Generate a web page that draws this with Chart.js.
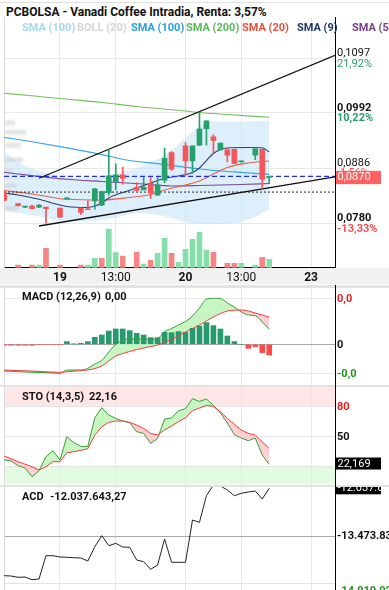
<!DOCTYPE html>
<html><head><meta charset="utf-8">
<script src="https://cdn.jsdelivr.net/npm/chart.js@4.4.1/dist/chart.umd.min.js"></script>
<style>
html,body{margin:0;padding:0;background:#fff;}
body{width:389px;height:590px;overflow:hidden;position:relative;font-family:Roboto,'DejaVu Sans',sans-serif;}
.a{position:absolute;}
.leg{position:absolute;top:21px;font-size:11px;font-weight:bold;white-space:nowrap;line-height:13px;}
.ph{position:absolute;font-size:11px;font-weight:bold;color:#111;white-space:nowrap;line-height:13px;}
canvas{position:absolute;left:0;}
</style></head><body>
<div class="a" style="left:0;top:2px;width:389px;height:1px;background:#e0e0e0"></div>
<div class="a" style="left:6px;top:5px;font-size:12px;font-weight:bold;color:#111;white-space:nowrap;line-height:15px">PCBOLSA - Vanadi Coffee Intradia, Renta: 3,57%</div>
<div class="a" style="left:0;top:268px;width:389px;height:16px;background:#f1f1f1"></div>
<div class="a" style="left:0;top:285px;width:389px;height:3px;background:#e2e2e2"></div>
<div class="a" style="left:0;top:385px;width:389px;height:2px;background:#e2e2e2"></div>
<div class="a" style="left:0;top:485px;width:389px;height:2px;background:#e2e2e2"></div>
<canvas id="cMain" width="389" height="268" style="top:17px"></canvas>
<canvas id="cMacd" width="389" height="97" style="top:288px"></canvas>
<canvas id="cSto" width="389" height="98" style="top:387px"></canvas>
<canvas id="cAcd" width="389" height="103" style="top:487px"></canvas>
<div class="a" style="left:335px;top:285px;width:1px;height:305px;background:#000"></div>
<span class="leg" style="left:22px;color:#a8d6f5">SMA (100)</span>
<span class="leg" style="left:77px;color:#d4d4d4">BOLL (20)</span>
<span class="leg" style="left:131px;color:#2b9fe0">SMA (100)</span>
<span class="leg" style="left:186px;color:#5cb85c">SMA (200)</span>
<span class="leg" style="left:242px;color:#e8503a">SMA (20)</span>
<span class="leg" style="left:297px;color:#1f3768">SMA (9)</span>
<span class="leg" style="left:352px;color:#7a3d8c">SMA (50)</span>
<span class="ph" style="left:22px;top:290px">MACD (12,26,9)</span><span class="ph" id="hMacd" style="left:105px;top:290px"></span>
<span class="ph" style="left:22px;top:390px">STO (14,3,5)</span><span class="ph" id="hSto" style="left:89px;top:390px"></span>
<span class="ph" style="left:22px;top:490px">ACD</span><span class="ph" id="hAcd" style="left:50px;top:490px"></span>
<script>
// ---------- DATA ----------
const X_MIN = -2.02, X_MAX = 45.43;
const X_TICKS = [6, 14, 24, 32, 42];
const X_TICK_LABELS = ['19', '13:00', '20', '13:00', '23'];
const X_TICK_BOLD = [true, false, true, false, true];

const PRICE_MIN = 0.06947, PRICE_MAX = 0.11763;
const PRICE_TICKS = [0.1097, 0.0992, 0.0886, 0.0780];
const PRICE_TICK_PCT = ['21,92%', '10,22%', '-1,56%', '-13,33%'];
const LAST_PRICE = 0.0870;
const REF_PRICE = 0.0840;

const CANDLE_SLOTS = [-2,0,1,2,3,4,6,7,9,10,11,12,13,14,15,17,18,19,20,21,22,24,25,26,27,28,29,30,31,32,34,35,36];
const OPEN  = [.0838,.0818,.0811,.0813,.0811,.0811,.0809,.0827,.0809,.0808,.0823,.0815,.0839,.0860,.0873,.0849,.0844,.0857,.0834,.0863,.0916,.0929,.0900,.0930,.0962,.0946,.0921,.0921,.0922,.0898,.0911,.0922,.0868];
const HIGH  = [.0840,.0818,.0812,.0815,.0816,.0811,.0809,.0829,.0809,.0823,.0847,.0842,.0921,.0894,.0888,.0858,.0868,.0868,.0868,.0924,.0918,.0935,.0929,.0993,.0977,.0950,.0934,.0925,.0922,.0900,.0923,.0922,.0870];
const LOW   = [.0823,.0813,.0810,.0807,.0810,.0780,.0791,.0827,.0797,.0806,.0807,.0814,.0834,.0844,.0855,.0843,.0844,.0828,.0834,.0858,.0881,.0871,.0876,.0929,.0930,.0915,.0921,.0898,.0895,.0897,.0902,.0847,.0856];
const CLOSE = [.0824,.0814,.0812,.0808,.0815,.0808,.0792,.0829,.0801,.0806,.0846,.0841,.0871,.0873,.0866,.0843,.0849,.0838,.0854,.0905,.0884,.0900,.0929,.0961,.0977,.0939,.0934,.0911,.0895,.0899,.0923,.0865,.0870];

const VOL_SLOTS = [0,2,3,4,6,9,10,11,12,13,14,15,17,18,19,20,21,22,23,24,25,26,27,28,30,31,32,34,35,36];
const VOLUME = [27000,27000,27000,194000,27000,27000,27000,94000,94000,387000,150000,117000,155000,37000,74000,144000,294000,144000,54000,184000,284000,354000,177000,154000,44000,44000,44000,27000,104000,84000];
const VOL_UP = [0,0,1,0,0,0,1,1,0,1,1,0,0,1,0,1,1,0,1,1,1,1,1,0,0,0,1,1,0,1];
const VOL_AXIS_MAX = 2507000;

const SMA200_SLOTS = [-2,2,6,12,17,24,26,30,36];
const SMA200 = [0.10298,0.10250,0.10198,0.10121,0.10044,0.09958,0.09927,0.09890,0.09836];
const SMA100_SLOTS = [-2,2,6,12,16,20,26,31,36];
const SMA100 = [0.09452,0.09366,0.09272,0.09120,0.09006,0.08945,0.08843,0.08786,0.08738];
const SMA20_SLOTS = [-2,2,5,7,12,16,19,21,24,26,28,30,33,36];
const SMA20 = [0.08430,0.08363,0.08296,0.08261,0.08248,0.08296,0.08353,0.08440,0.08536,0.08613,0.08747,0.08872,0.08958,0.08997];
const SMA9_SLOTS = [-2,0,3,6,7,10,11,12,13,15,17,20,21,23,25,26,27,28,29,30,33,35,36];
const SMA9 = [0.08382,0.08344,0.08261,0.08152,0.08123,0.08104,0.08132,0.08190,0.08286,0.08392,0.08478,0.08622,0.08665,0.08709,0.08776,0.08862,0.09006,0.09141,0.09218,0.09247,0.09256,0.09250,0.09170];
const SMA50_SLOTS = [-2,2,7,12,18,22,26,32,36];
const SMA50 = [0.08780,0.08715,0.08645,0.08603,0.08555,0.08517,0.08526,0.08545,0.08565];
const BB_SLOTS = [-2,0,3,6,9,12,15,17,20,22,24,26,28,32,36];
const BB_UP = [0.09170,0.08978,0.08805,0.08709,0.08670,0.08709,0.08786,0.08862,0.09035,0.09208,0.09439,0.09669,0.09756,0.09756,0.09775];
const BB_LO = [0.08036,0.07998,0.07931,0.07844,0.07835,0.07854,0.07940,0.07998,0.07959,0.07902,0.07825,0.07787,0.07787,0.07825,0.08056];

const TREND_UP_SLOTS = [3, 45.43], TREND_UP = [0.08665, 0.11026];
const TREND_LO_SLOTS = [3, 45.43], TREND_LO = [0.07748, 0.08692];

const PROFILE_PRICE = [0.0973,0.0955,0.0930,0.0902,0.0880,0.0852,0.0809];
const PROFILE_VOL = [95,200,150,170,75,115,125];

const OSC_SLOTS = [-2,-1,0,1,2,3,4,5,6,7,8,9,10,11,12,13,14,15,16,17,18,19,20,21,22,23,24,25,26,27,28,29,30,31,32,33,34,35,36];
const MACD = [-0.000801,-0.00081,-0.000822,-0.000831,-0.00084,-0.000846,-0.000852,-0.000861,-0.00087,-0.000771,-0.000771,-0.000771,-0.00072,-0.000591,-0.000486,-0.000231,-0.000006,0.000129,0.000159,0.000159,0.000159,0.00015,0.000174,0.000384,0.000474,0.000579,0.000684,0.000849,0.001089,0.001359,0.00138,0.001374,0.001239,0.001119,0.000969,0.000879,0.000858,0.000669,0.000459];
const SIGNAL = [-0.000771,-0.00078,-0.000789,-0.000795,-0.000801,-0.000813,-0.000825,-0.000834,-0.00084,-0.000825,-0.000807,-0.000789,-0.000771,-0.000726,-0.000651,-0.000501,-0.000351,-0.000276,-0.000216,-0.000156,-0.000111,-0.000066,-0.000021,0.000069,0.000144,0.000249,0.000369,0.000474,0.000579,0.000699,0.000819,0.000924,0.000999,0.001023,0.001029,0.000999,0.000939,0.000879,0.00081];
const HIST = [-0.00003,-0.00003,-0.00003,-0.00003,-0.00003,-0.000015,-0.000015,-0.000015,-0.000015,0.000081,0.00001,0.00003,0.000081,0.00021,0.000279,0.000399,0.000459,0.000459,0.000411,0.00033,0.000279,0.000201,0.000201,0.00036,0.000351,0.000381,0.00036,0.00048,0.000549,0.000651,0.000561,0.000459,0.000249,0.000081,0,-0.00012,-0.000069,-0.000249,-0.000321];
const MACD_MIN = -0.001221, MACD_MAX = 0.001689;
const MACD_TICKS = [0.00138, 0, -0.00087];

const STO_K = [26.7,25.7,21,18.7,10,16,30,36,26.7,50,44,40.3,40.3,69,79,71.7,68.3,65.7,64,55,53.3,43.3,48.3,67.7,68.7,76,78,88,85.3,87.7,81.3,73.7,63.7,52,48.7,46,48.7,31.7,22.169];
const STO_D = [30.7,28,25,22.5,20,16.7,20,25,25,34,35,36.3,38,51.7,60,64.3,65.7,65.7,64.3,61.7,58.3,53.3,51.7,56.7,60.7,65,69,76,78.7,81.3,80.3,75,68.3,62.3,56.7,53.3,51.7,45,38.3];
const STO_MIN = 1.7, STO_MAX = 99.7;
const STO_TICKS = [80, 50, 20];

const ACD = [-14669127,-14678160,-14717302,-14708269,-14789563,-14768487,-14066947,-14066947,-14106089,-14115122,-14127165,-14136198,-14226525,-13795966,-13464767,-13765857,-13693596,-13804999,-13814032,-14196416,-14247601,-14476430,-14346961,-13564127,-14265667,-14265667,-14265667,-12992056,-13061307,-12260407,-11938241,-11968350,-12088786,-12260407,-12188146,-12149004,-12118895,-12359767,-12037643.27];
const ACD_MIN = -15099686, ACD_MAX = -11998459;
const ACD_TICKS = [-13473836, -14910029];

// ---------- helpers ----------
Chart.defaults.font.family = 'Roboto';
Chart.defaults.animation = false;
const pts = (xs, ys) => xs.map((x, i) => ({x, y: ys[i]}));
const dec = (v, d) => v.toFixed(d).replace('.', ',');
const th = v => (v < 0 ? '-' : '') + Math.abs(Math.trunc(v)).toString().replace(/\B(?=(\d{3})+(?!\d))/g, '.');
const GREEN = '#26a06c', RED = '#f5565a';

function xScale(labels) {
  return {
    type: 'linear', min: X_MIN, max: X_MAX, offset: false,
    afterBuildTicks: s => { s.ticks = X_TICKS.map(v => ({value: v})); },
    grid: {color: '#e8e8e8', lineWidth: 1, drawTicks: false, offset: false},
    border: {display: labels, color: '#000', width: 1},
    ticks: {display: labels, padding: 3, color: '#111', maxRotation: 0, autoSkip: false,
      callback: v => { const i = X_TICKS.indexOf(v); return i >= 0 ? X_TICK_LABELS[i] : ''; },
      font: c => ({family: 'Roboto', size: 12, weight: (c.tick && X_TICK_BOLD[X_TICKS.indexOf(c.tick.value)]) ? 'bold' : 'normal'})},
    afterFit: s => { s.height = labels ? 17.3 : 0; }
  };
}
function yScale(min, max, ticks, gridColor, border) {
  return {
    type: 'linear', position: 'right', min, max,
    afterBuildTicks: s => { s.ticks = ticks.map(v => ({value: v})); },
    grid: {color: gridColor, drawTicks: false},
    border: {display: border, color: '#000', width: 1},
    ticks: {display: false},
    afterFit: s => { s.width = 54; }
  };
}
const leftBorder = {
  id: 'leftBorder',
  beforeDatasetsDraw(chart) {
    const {ctx, chartArea: a} = chart;
    ctx.save(); ctx.fillStyle = '#dcdcdc'; ctx.fillRect(a.left, a.top, 1, a.bottom - a.top); ctx.restore();
  }
};
function line(data, color, w, extra) {
  return Object.assign({type: 'line', data, borderColor: color, borderWidth: w, pointRadius: 0,
    cubicInterpolationMode: 'monotone', fill: false}, extra || {});
}
const baseOpts = (scales) => ({
  responsive: false, animation: false, events: [],
  layout: {padding: {left: 4, right: 0, top: 0, bottom: 0}},
  plugins: {legend: {display: false}, tooltip: {enabled: false}, filler: {drawTime: 'beforeDatasetsDraw'}},
  scales
});

// ---------- MAIN ----------
const isUp = i => CLOSE[i] >= OPEN[i];
const mainLabels = {
  id: 'mainLabels',
  beforeDatasetsDraw(chart) {
    const {ctx, chartArea: a, scales: {y}} = chart;
    const pmax = Math.max(...PROFILE_VOL);
    ctx.save(); ctx.filter = 'blur(1.2px)'; ctx.fillStyle = 'rgba(205,205,205,0.55)';
    PROFILE_PRICE.forEach((p, i) => {
      const yy = y.getPixelForValue(p);
      ctx.fillRect(a.left + 1, yy - 2.5, PROFILE_VOL[i] / pmax * 21, 5);
    });
    ctx.restore();
  },
  afterDraw(chart) {
    const {ctx, chartArea: a, scales: {y}} = chart;
    ctx.save(); ctx.textBaseline = 'middle'; ctx.textAlign = 'left';
    PRICE_TICKS.forEach((p, i) => {
      const yy = y.getPixelForValue(p);
      const bold = i % 2 === 1 || i === 3;
      ctx.font = (bold ? 'bold ' : '') + '11px Roboto';
      ctx.fillStyle = '#111';
      ctx.fillText(dec(p, 4), a.right + 2, yy - 5);
      ctx.fillStyle = PRICE_TICK_PCT[i].startsWith('-') ? '#f55050' : '#2a9d6a';
      ctx.fillText(PRICE_TICK_PCT[i], a.right + 2, yy + 5.5);
    });
    const ly = y.getPixelForValue(LAST_PRICE);
    ctx.fillStyle = 'rgba(255,88,88,0.95)'; ctx.fillRect(a.right + 1, ly - 5.6, 45, 13.3);
    ctx.fillStyle = '#fff'; ctx.font = '11px Roboto'; ctx.fillText(dec(LAST_PRICE, 4), a.right + 2.5, ly + 1.2);
    ctx.restore();
  }
};
new Chart(document.getElementById('cMain'), {
  type: 'bar',
  data: {datasets: [
    {type: 'bar', data: CANDLE_SLOTS.map((s, i) => ({x: s, y: [OPEN[i], CLOSE[i]]})), barThickness: 5, minBarLength: 1,
      grouped: false, backgroundColor: c => isUp(c.dataIndex) ? GREEN : RED, borderWidth: 0, order: 0},
    {type: 'bar', data: CANDLE_SLOTS.map((s, i) => ({x: s, y: [LOW[i], HIGH[i]]})), barThickness: 1, minBarLength: 1,
      grouped: false, backgroundColor: c => isUp(c.dataIndex) ? GREEN : RED, borderWidth: 0, order: 1},
    line(pts(TREND_UP_SLOTS, TREND_UP), '#111', 1.3, {cubicInterpolationMode: 'default', tension: 0, order: 2}),
    line(pts(TREND_LO_SLOTS, TREND_LO), '#111', 1.3, {cubicInterpolationMode: 'default', tension: 0, order: 2}),
    line(pts([X_MIN, X_MAX], [LAST_PRICE, LAST_PRICE]), '#2030e8', 1.2, {borderDash: [5, 3], tension: 0, order: 3}),
    line(pts([X_MIN, X_MAX], [REF_PRICE, REF_PRICE]), '#222', 1, {borderDash: [2, 2], tension: 0, order: 3}),
    line(pts(SMA9_SLOTS, SMA9), '#2b3f73', 1.1, {order: 4}),
    line(pts(SMA20_SLOTS, SMA20), '#e8604a', 1.1, {order: 5}),
    line(pts(SMA50_SLOTS, SMA50), '#7d4a92', 1.1, {order: 6}),
    line(pts(SMA100_SLOTS, SMA100), '#38a4e6', 1.2, {order: 7}),
    line(pts(SMA200_SLOTS, SMA200), '#74bf5e', 1.1, {order: 8}),
    line(pts(BB_SLOTS, BB_UP), 'rgba(0,0,0,0)', 0, {fill: '+1', backgroundColor: 'rgba(200,228,250,0.6)', order: 9}),
    line(pts(BB_SLOTS, BB_LO), 'rgba(0,0,0,0)', 0, {order: 10}),
    {type: 'bar', yAxisID: 'yv', data: VOL_SLOTS.map((s, i) => ({x: s, y: VOLUME[i]})), barThickness: 5, grouped: false,
      backgroundColor: c => VOL_UP[c.dataIndex] ? '#86dfaa' : '#f78585', borderWidth: 0, order: 20}
  ]},
  options: baseOpts({
    x: xScale(true),
    y: yScale(PRICE_MIN, PRICE_MAX, PRICE_TICKS, '#e8e8e8', true),
    yv: {display: false, min: 0, max: VOL_AXIS_MAX}
  }),
  plugins: [leftBorder, mainLabels]
});

// ---------- MACD ----------
const macdLabels = {
  id: 'macdLabels',
  afterDraw(chart) {
    const {ctx, chartArea: a, scales: {y}} = chart;
    ctx.save(); ctx.textBaseline = 'middle'; ctx.font = 'bold 11px Roboto';
    MACD_TICKS.forEach(v => {
      ctx.fillStyle = v > 0 ? '#f01e1e' : (v < 0 ? '#1e951e' : '#111');
      ctx.fillText(v === 0 ? '0' : dec(v, 1), a.right + 2, y.getPixelForValue(v) + 0.5);
    });
    ctx.restore();
  }
};
document.getElementById('hMacd').textContent = dec(MACD[MACD.length - 1], 2);
new Chart(document.getElementById('cMacd'), {
  type: 'bar',
  data: {datasets: [
    line(pts(OSC_SLOTS, MACD), '#3d9a3d', 1, {fill: {target: 1, above: '#c8f6c3', below: '#ffcfd3'}, order: 1}),
    line(pts(OSC_SLOTS, SIGNAL), '#f03c3c', 1, {order: 0}),
    {type: 'bar', data: pts(OSC_SLOTS, HIST), barThickness: 5, grouped: false, borderWidth: 0,
      backgroundColor: c => c.raw.y >= 0 ? '#279b6d' : '#ff4a4a', order: 5}
  ]},
  options: baseOpts({
    x: xScale(false),
    y: yScale(MACD_MIN, MACD_MAX, MACD_TICKS, c => c.tick && c.tick.value === 0 ? '#a8a8a8' : '#e8e8e8', false)
  }),
  plugins: [leftBorder, macdLabels]
});

// ---------- STO ----------
const stoDeco = {
  id: 'stoDeco',
  beforeDraw(chart) {
    const {ctx, chartArea: a, scales: {y}} = chart;
    ctx.save();
    ctx.fillStyle = '#ffe6e6';
    ctx.fillRect(a.left, a.top, a.right - a.left, y.getPixelForValue(STO_TICKS[0]) - a.top);
    ctx.fillStyle = '#e3fce1';
    const y20 = y.getPixelForValue(STO_TICKS[2]);
    ctx.fillRect(a.left, y20, a.right - a.left, a.bottom - y20 - 1);
    ctx.restore();
  },
  afterDraw(chart) {
    const {ctx, chartArea: a, scales: {y}} = chart;
    ctx.save(); ctx.textBaseline = 'middle'; ctx.font = 'bold 11px Roboto';
    ctx.fillStyle = '#f01e1e'; ctx.fillText(String(STO_TICKS[0]), a.right + 2, y.getPixelForValue(STO_TICKS[0]) + 0.5);
    ctx.fillStyle = '#111'; ctx.fillText(String(STO_TICKS[1]), a.right + 2, y.getPixelForValue(STO_TICKS[1]) + 0.5);
    const last = STO_K[STO_K.length - 1], ly = y.getPixelForValue(last) - 1;
    ctx.fillStyle = '#000'; ctx.fillRect(a.right + 1, ly - 6, 45, 12);
    ctx.fillStyle = '#fff'; ctx.font = '11px Roboto'; ctx.fillText(dec(last, 3), a.right + 2.5, ly + 0.5);
    ctx.restore();
  }
};
const kLast = STO_K[STO_K.length - 1];
document.getElementById('hSto').textContent = dec(Math.floor(kLast * 100) / 100, 2);
new Chart(document.getElementById('cSto'), {
  type: 'line',
  data: {datasets: [
    line(pts(OSC_SLOTS, STO_K), '#3d9a3d', 1, {cubicInterpolationMode: 'default', tension: 0, fill: {target: 1, above: '#c8f6c3', below: '#ffcfd3'}, order: 1}),
    line(pts(OSC_SLOTS, STO_D), '#f03c3c', 1, {cubicInterpolationMode: 'default', tension: 0, order: 0})
  ]},
  options: baseOpts({
    x: xScale(false),
    y: yScale(STO_MIN, STO_MAX, STO_TICKS, '#e4e4e4', false)
  }),
  plugins: [leftBorder, stoDeco]
});

// ---------- ACD ----------
const acdLast = ACD[ACD.length - 1];
document.getElementById('hAcd').textContent = th(acdLast) + ',' + Math.round(Math.abs(acdLast % 1) * 100).toString().padStart(2, '0');
const acdLabels = {
  id: 'acdLabels',
  afterDraw(chart) {
    const {ctx, chartArea: a, scales: {y}} = chart;
    ctx.save(); ctx.textBaseline = 'middle'; ctx.font = 'bold 11px Roboto';
    ctx.fillStyle = '#111'; ctx.fillText(th(ACD_TICKS[0]), a.right + 2, y.getPixelForValue(ACD_TICKS[0]) + 0.5);
    ctx.fillStyle = '#1e951e'; ctx.fillText(th(ACD_TICKS[1]), a.right + 2, y.getPixelForValue(ACD_TICKS[1]) + 8);
    const ly = y.getPixelForValue(acdLast);
    ctx.fillStyle = '#000'; ctx.fillRect(a.right + 1, ly - 6, 45, 12);
    ctx.fillStyle = '#fff'; ctx.font = '11px Roboto'; ctx.fillText(th(acdLast), a.right + 2.5, ly);
    ctx.restore();
  }
};
new Chart(document.getElementById('cAcd'), {
  type: 'line',
  data: {datasets: [
    line(pts(OSC_SLOTS, ACD), '#222', 1, {cubicInterpolationMode: 'default', tension: 0})
  ]},
  options: baseOpts({
    x: xScale(false),
    y: yScale(ACD_MIN, ACD_MAX, ACD_TICKS, c => c.tick && c.tick.value === ACD_TICKS[0] ? '#a8a8a8' : '#e4e4e4', false)
  }),
  plugins: [leftBorder, acdLabels]
});
</script>
</body></html>
